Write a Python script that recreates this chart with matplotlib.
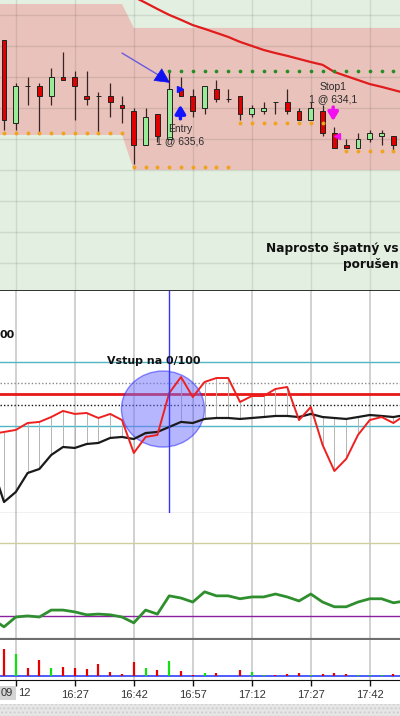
"""Re-draw of a 3-minute chart: long entry at 635,6 stopped out at 634,1."""

import matplotlib

matplotlib.use("Agg")
import matplotlib.pyplot as plt
import numpy as np
import pandas as pd
from matplotlib.patches import Ellipse, Rectangle

plt.rcParams["font.family"] = ["Liberation Sans", "DejaVu Sans"]

nan = np.nan

# 3-minute bars, the first one opens at 16:09
BAR_START = "16:09"
BAR_MINUTES = 3

opens = [637.2, 634.5, 635.7, 635.7, 635.4, 636.0, 636.0, 635.4, 635.4, 635.4,
         635.1, 634.9, 633.8, 634.8, 634.0, 635.6, 635.4, 635.0, 635.6, 635.3,
         635.4, 634.8, 634.9, 635.2, 635.2, 634.9, 634.6, 634.9, 634.2, 633.8,
         633.7, 634.0, 634.1, 634.1]
highs = [637.2, 635.8, 636.0, 635.8, 636.3, 636.8, 636.2, 636.2, 635.5, 635.8,
         635.4, 635.0, 635.0, 634.8, 636.2, 636.0, 635.6, 635.7, 635.9, 635.6,
         635.4, 635.1, 635.2, 635.2, 635.6, 635.0, 635.2, 635.1, 634.4, 634.0,
         634.2, 634.3, 634.3, 634.1]
lows = [634.3, 634.3, 635.1, 634.2, 635.1, 635.9, 634.6, 635.1, 634.2, 634.7,
        634.5, 633.2, 633.8, 633.9, 634.0, 635.4, 634.7, 634.8, 635.2, 635.2,
        634.6, 634.7, 634.8, 634.8, 634.8, 634.6, 634.6, 634.1, 633.7, 633.7,
        633.7, 633.9, 633.8, 633.6]
closes = [634.6, 635.7, 635.7, 635.4, 636.0, 635.9, 635.7, 635.3, 635.4, 635.2,
          635.0, 633.8, 634.7, 634.1, 635.6, 635.4, 634.9, 635.7, 635.3, 635.3,
          634.8, 635.0, 635.0, 635.2, 634.9, 634.6, 635.0, 634.2, 633.7, 633.7,
          634.0, 634.2, 634.2, 633.8]
volumes = [1070, 870, 330, 640, 320, 370, 320, 280, 490, 160,
           80, 560, 320, 240, 590, 200, 50, 120, 120, 15,
           240, 160, 40, 50, 80, 120, 40, 80, 120, 80,
           40, 40, 40, 80]

# price overlays (nan = not drawn)
band_top = [638.35, 638.35, 638.35, 638.35, 638.35, 638.35, 638.35, 638.35, 638.35, 638.35,
            638.35, 637.58, 637.58, 637.58, 637.58, 637.58, 637.58, 637.58, 637.58, 637.58,
            637.58, 637.58, 637.58, 637.58, 637.58, 637.58, 637.58, 637.58, 637.58, 637.58,
            637.58, 637.58, 637.58, 637.58]
band_bottom = [634.13, 634.13, 634.13, 634.13, 634.13, 634.13, 634.13, 634.13, 634.13, 634.13,
               634.13, 633.0, 633.0, 633.0, 633.0, 633.0, 633.0, 633.0, 633.0, 633.0,
               633.0, 633.0, 633.0, 633.0, 633.0, 633.0, 633.0, 633.0, 633.0, 633.0,
               633.0, 633.0, 633.0, 633.0]
# the average runs one bar past the last visible candle (cut at the right edge)
moving_avg = [nan, nan, nan, nan, nan, nan, nan, nan, nan, nan,
              638.80, 638.58, 638.39, 638.19, 638.00, 637.84, 637.67, 637.55, 637.42, 637.29,
              637.13, 637.00, 636.87, 636.77, 636.68, 636.58, 636.48, 636.39, 636.16, 636.03,
              635.90, 635.77, 635.68, 635.58, 635.48]
stop_dots = [634.2, 634.2, 634.2, 634.2, 634.2, 634.2, 634.2, 634.2, 634.2, 634.2,
             634.2, 633.1, 633.1, 633.1, 633.1, 633.1, 633.1, 633.1, 633.1, 633.1,
             634.5, 634.5, 634.5, 634.5, 634.5, 634.5, 634.5, 634.5, nan, 633.6,
             633.6, 633.6, 633.6, 633.6]
entry_dots = [nan, nan, nan, nan, nan, nan, nan, nan, nan, nan,
              nan, nan, nan, nan, 636.2, 636.2, 636.2, 636.2, 636.2, 636.2,
              636.2, 636.2, 636.2, 636.2, 636.2, 636.2, 636.2, 636.2, 636.2, 636.2,
              636.2, 636.2, 636.2, 636.2]

ENTRY_BAR, ENTRY_PRICE = 14, 635.6
EXIT_BAR, EXIT_PRICE = 28, 634.1

# indicators: one bar before the first candle (16:06) to one bar after the last
osc_fast = [12.5, 14.4, 16.3, 22.8, 23.8, 28.4, 34.1, 31.3, 32.2, 27.5,
            31.3, 25.6, -5.3, 9.7, 11.6, 50.9, 65.9, 47.2, 61.3, 65.0,
            65.0, 42.5, 48.1, 48.1, 54.7, 56.6, 25.6, 37.8, 2.2, -22.2,
            -10.9, 11.6, 25.6, 28.4, 22.8, 30.3]
osc_slow = [-17.5, -51.3, -41.9, -24.1, -20.3, -7.2, 0.3, -0.6, 3.1, 4.1,
            8.8, 9.7, 7.8, 13.4, 14.4, 19.1, 23.8, 22.8, 26.6, 27.5,
            27.5, 26.6, 27.5, 28.4, 29.4, 29.4, 28.4, 31.3, 28.4, 27.5,
            26.6, 28.4, 30.3, 29.4, 28.4, 30.3]
osc_levels = {80: "band", 60: "dotgray", 50: "mid", 40: "dotblack", 20: "band"}
adx = [19.2, 17.0, 19.7, 20.0, 19.7, 21.6, 21.6, 21.1, 20.3, 20.5,
       20.3, 19.7, 18.1, 21.6, 20.5, 25.5, 24.9, 23.8, 26.6, 25.5,
       25.5, 24.7, 25.2, 25.2, 26.0, 25.2, 24.1, 26.0, 23.8, 22.5,
       22.5, 23.8, 24.7, 24.7, 23.6, 24.1]
ADX_HIGH, ADX_LOW = 40, 20

times = pd.date_range(f"2000-01-01 {BAR_START}", periods=len(opens), freq=f"{BAR_MINUTES}min")
x = np.arange(len(opens))
xi = np.arange(-1, len(osc_fast) - 1)
x_ma = np.arange(len(moving_avg))
tick_idx = [i for i, t in enumerate(times) if t.minute % 15 == 12]
tick_lbl = [times[i].strftime("%H:%M") for i in tick_idx]

W, H = 400, 716
fig = plt.figure(figsize=(W / 100, H / 100), dpi=100)
fig.patch.set_facecolor("white")


def rows(top, bottom):
    return [0, 1 - bottom / H, 1, (bottom - top) / H]


ax_p = fig.add_axes(rows(0, 291))
ax_o = fig.add_axes(rows(291, 513), sharex=ax_p)
ax_a = fig.add_axes(rows(513, 640), sharex=ax_p)
ax_v = fig.add_axes(rows(640, 680), sharex=ax_p)

for ax in (ax_p, ax_o, ax_a, ax_v):
    ax.tick_params(left=False, labelleft=False, bottom=False, labelbottom=False)
    for s in ("top", "left", "right"):
        ax.spines[s].set_visible(False)
    ax.set_xticks(tick_idx)
    ax.grid(axis="x", color="#c9c9c9", lw=1.2)
    ax.set_axisbelow(True)
ax_p.set_xlim(-0.34, 33.56)

# --- price panel
o, h, l, c = (np.array(v) for v in (opens, highs, lows, closes))
up = c > o
ax_p.set_facecolor("#e3efe1")
ax_p.set_ylim(629.10, 638.48)
ax_p.set_yticks(np.arange(630, 639))
ax_p.set_axisbelow(False)
ax_p.grid(axis="both", color="k", alpha=0.09, lw=1.0)
xb = np.r_[-1, x, len(x)]
ax_p.fill_between(xb, np.r_[band_bottom[0], band_bottom, band_bottom[-1]],
                  np.r_[band_top[0], band_top, band_top[-1]], color="#e9c3bb", lw=0, zorder=1)
ax_p.plot(x_ma, moving_avg, color="#e01c1c", lw=1.6, zorder=3)
ax_p.vlines(x, l, h, color="#3a2222", lw=0.9, zorder=3)
ax_p.bar(x, np.abs(c - o), bottom=np.minimum(o, c), width=0.42,
         color=np.where(up, "#98ec98", "#e00000"), edgecolor="#222222", lw=0.7, zorder=4)
ax_p.scatter(x, entry_dots, s=7, color="#238c23", lw=0, zorder=5)
ax_p.scatter(x, stop_dots, s=8, color="#f2a21e", lw=0, zorder=5)
ax_p.spines["bottom"].set_color("#222222")
ax_p.spines["bottom"].set_linewidth(1.3)

# entry pointer: purple shaft + big blue head
ax_p.annotate("", xy=(13.05, 636.07), xytext=(10.0, 636.77),
              arrowprops=dict(arrowstyle="-", color="#6a5ae0", lw=1.0, shrinkA=0, shrinkB=0), zorder=6)
ax_p.annotate("", xy=(14.07, 635.81), xytext=(13.05, 636.07),
              arrowprops=dict(arrowstyle="-|>", color="#1212f0", lw=0.5, mutation_scale=25,
                              shrinkA=0, shrinkB=0), zorder=6)
ax_p.plot(ENTRY_BAR + 0.9, ENTRY_PRICE, marker=">", ms=5, color="#1414ff", zorder=6)
ax_p.annotate("", xy=(ENTRY_BAR + 0.95, 635.1), xytext=(ENTRY_BAR + 0.95, 634.65),
              arrowprops=dict(arrowstyle="-|>,head_length=0.5,head_width=0.3", color="#1414ff",
                              lw=2.5, mutation_scale=10, shrinkA=0, shrinkB=0), zorder=6)
ax_p.annotate("", xy=(EXIT_BAR - 0.1, 634.58), xytext=(EXIT_BAR - 0.1, 635.03),
              arrowprops=dict(arrowstyle="-|>,head_length=0.5,head_width=0.3", color="#f010f0",
                              lw=2.5, mutation_scale=10, shrinkA=0, shrinkB=0), zorder=6)
ax_p.plot(EXIT_BAR + 0.2, EXIT_PRICE, marker="<", ms=5, color="#f010f0", zorder=6)

lab = dict(ha="center", va="center", fontsize=7.5, color="#2a2a2a", zorder=7)
ax_p.text(ENTRY_BAR + 0.9, 634.32, "Entry", **lab)
ax_p.text(ENTRY_BAR + 0.9, 633.94, f"1 @ {ENTRY_PRICE:.1f}".replace(".", ","), **lab)
ax_p.text(EXIT_BAR - 0.15, 635.68, "Stop1", **lab)
ax_p.text(EXIT_BAR - 0.15, 635.29, f"1 @ {EXIT_PRICE:.1f}".replace(".", ","), **lab)

# the comment runs past the right edge of the screenshot; only its visible part is kept
note = dict(ha="right", va="center", fontsize=8.7, fontweight="bold", color="#111111",
            family=["DejaVu Sans"], transform=ax_p.transAxes)
ax_p.text(399 / W, 1 - 248 / 291, "Naprosto špatný vs", **note)
ax_p.text(399 / W, 1 - 264 / 291, "porušen", **note)

# --- oscillator panel
ax_o.set_ylim(-61.6, 146.6)
for lvl, kind in osc_levels.items():
    if kind == "band":
        ax_o.axhline(lvl, color="#4fb6c6", lw=1.0, zorder=2)
    elif kind == "dotgray":
        ax_o.axhline(lvl, color="#8a8a8a", lw=1.0, ls=(0, (1, 1.5)), zorder=2)
    elif kind == "dotblack":
        ax_o.axhline(lvl, color="#111111", lw=1.0, ls=(0, (1, 1.5)), zorder=2)
    else:
        ax_o.axhline(lvl, color="#e81818", lw=2.0, zorder=2)
ax_o.vlines(xi, osc_fast, osc_slow, color="#b4b4b4", lw=0.7, zorder=2)
ax_o.add_patch(Ellipse((13.47, 35.9), 7.03, 71.3, facecolor="#6f6fff", alpha=0.5,
                       edgecolor="#1c1cff", lw=1.0, zorder=2.5))
ax_o.plot(xi, osc_slow, color="#1a1a1a", lw=1.6, zorder=3)
ax_o.plot(xi, osc_fast, color="#ee2020", lw=1.4, zorder=3)
ax_o.axvline(ENTRY_BAR, color="#3434ff", lw=1.0, zorder=4)
ax_o.spines["bottom"].set_color("#111111")
bold = dict(fontsize=7.9, fontweight="bold", color="#111111", family=["DejaVu Sans"],
            va="center", transform=ax_o.transAxes)
ax_o.text(107 / W, 1 - (361 - 291) / 222, "Vstup na 0/100", ha="left", zorder=6, **bold)
ax_o.text(0 / W, 1 - (335 - 291) / 222, "00", ha="left", zorder=6, **bold)

# --- trend strength panel
ax_a.set_ylim(13.4, 48.2)
ax_a.axhline(ADX_HIGH, color="#cfcf9c", lw=1.0)
ax_a.axhline(ADX_LOW, color="#8a1fa0", lw=1.0)
ax_a.plot(xi, adx, color="#2f8f2f", lw=2.0)
ax_a.spines["bottom"].set_color("#6e6e6e")
ax_a.spines["bottom"].set_linewidth(3)

# --- volume panel
ax_v.set_ylim(-160, 1440)
ax_v.axhline(0, color="#2f3fff", lw=1.2, zorder=2)
ax_v.vlines(x, 0, volumes, colors=np.where(up, "#10e010", "#e80000"), lw=1.6, zorder=3)
ax_v.spines["bottom"].set_color("#111111")
ax_v.tick_params(bottom=True, labelbottom=True, length=4, width=1, pad=3,
                 labelsize=8, labelcolor="#333333", color="#111111")
# the first label is half hidden under the cursor-time box: only its minutes show
ax_v.set_xticklabels([""] + tick_lbl[1:])
fig.text(18 / W, 1 - 693 / H, times[tick_idx[0]].strftime("%M"), fontsize=8, color="#333333",
         ha="left", va="center")

# cursor time box and the hatched scroll strip
fig.patches.append(Rectangle((0, 1 - 700 / H), 15.5 / W, 14 / H, transform=fig.transFigure,
                             facecolor="#d4d4d4", edgecolor="none", zorder=1))
fig.text(1 / W, 1 - 693 / H, times[0].strftime("%M"), fontsize=8, color="#333333",
         ha="left", va="center")
fig.patches.append(Rectangle((0, 0), 1, 12 / H, transform=fig.transFigure,
                             facecolor="#e6e6e6", edgecolor="#cfcfcf", hatch="....", lw=0, zorder=1))

fig.savefig("out.png", dpi=100)
